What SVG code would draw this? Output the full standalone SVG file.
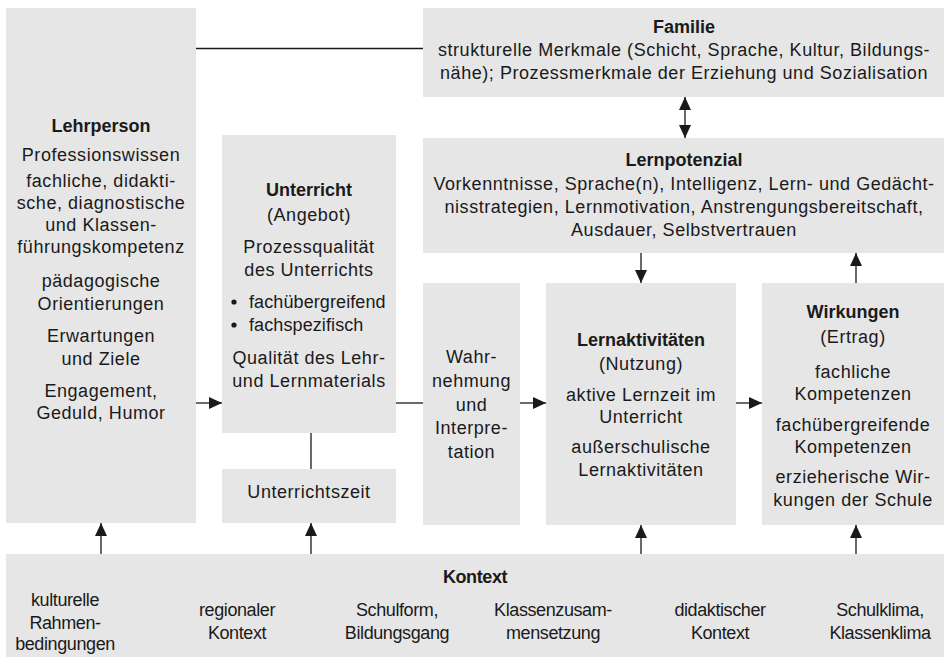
<svg xmlns="http://www.w3.org/2000/svg" width="950" height="657" viewBox="0 0 950 657">
<defs>
<style>
.box{fill:#e6e6e6}
text{font-family:"Liberation Sans",Arial,sans-serif;font-size:18px;letter-spacing:0.55px;fill:#1a1a1a;text-anchor:middle}
.b{font-weight:bold;letter-spacing:0}
.l{text-anchor:start;letter-spacing:0.1px}
.k{letter-spacing:-0.4px}
.c{stroke:#1a1a1a;stroke-width:1.3;fill:none}
</style>
<marker id="ah" markerUnits="userSpaceOnUse" markerWidth="14" markerHeight="12" refX="13" refY="6" orient="auto-start-reverse">
<path d="M0,0 L13,6 L0,12 Z" fill="#1a1a1a"/>
</marker>
</defs>
<rect width="950" height="657" fill="#fff"/>
<g id="connectors">
<line class="c" x1="196" y1="48.5" x2="423" y2="48.5"/>
<line class="c" x1="685" y1="97" x2="685" y2="138" marker-start="url(#ah)" marker-end="url(#ah)"/>
<line class="c" x1="641" y1="253" x2="641" y2="283" marker-end="url(#ah)"/>
<line class="c" x1="856" y1="283" x2="856" y2="253" marker-end="url(#ah)"/>
<line class="c" x1="196" y1="403" x2="222" y2="403" marker-end="url(#ah)"/>
<line class="c" x1="396" y1="403" x2="423" y2="403"/>
<line class="c" x1="520" y1="403" x2="546" y2="403" marker-end="url(#ah)"/>
<line class="c" x1="736" y1="403" x2="762" y2="403" marker-end="url(#ah)"/>
<line class="c" x1="311" y1="433" x2="311" y2="469"/>
<line class="c" x1="101" y1="554" x2="101" y2="523" marker-end="url(#ah)"/>
<line class="c" x1="311" y1="554" x2="311" y2="523" marker-end="url(#ah)"/>
<line class="c" x1="641" y1="554" x2="641" y2="525" marker-end="url(#ah)"/>
<line class="c" x1="856" y1="554" x2="856" y2="525" marker-end="url(#ah)"/>
</g>
<g id="lehrperson">
<rect class="box" x="6" y="8" width="190" height="515"/>
<text x="101" y="132" class="b">Lehrperson</text>
<text x="101" y="161">Professionswissen</text>
<text x="101" y="187">fachliche, didakti-</text>
<text x="101" y="209">sche, diagnostische</text>
<text x="101" y="231">und Klassen-</text>
<text x="101" y="253">führungskompetenz</text>
<text x="101" y="287">pädagogische</text>
<text x="101" y="310">Orientierungen</text>
<text x="101" y="342">Erwartungen</text>
<text x="101" y="365">und Ziele</text>
<text x="101" y="397">Engagement,</text>
<text x="101" y="419">Geduld, Humor</text>
</g>
<g id="familie">
<rect class="box" x="423" y="8" width="521" height="89"/>
<text x="684" y="33" class="b">Familie</text>
<text x="684" y="56">strukturelle Merkmale (Schicht, Sprache, Kultur, Bildungs-</text>
<text x="684" y="79">nähe); Prozessmerkmale der Erziehung und Sozialisation</text>
</g>
<g id="lernpotenzial">
<rect class="box" x="423" y="138" width="521" height="115"/>
<text x="684" y="166" class="b">Lernpotenzial</text>
<text x="684" y="190">Vorkenntnisse, Sprache(n), Intelligenz, Lern- und Gedächt-</text>
<text x="684" y="213">nisstrategien, Lernmotivation, Anstrengungsbereitschaft,</text>
<text x="684" y="236">Ausdauer, Selbstvertrauen</text>
</g>
<g id="unterricht">
<rect class="box" x="222" y="135" width="174" height="298"/>
<text x="309" y="196" class="b">Unterricht</text>
<text x="309" y="221">(Angebot)</text>
<text x="309" y="253">Prozessqualität</text>
<text x="309" y="276">des Unterrichts</text>
<circle cx="234" cy="302" r="2.6" fill="#1a1a1a"/>
<circle cx="234" cy="325" r="2.6" fill="#1a1a1a"/>
<text x="249" y="308" class="l">fachübergreifend</text>
<text x="249" y="331" class="l">fachspezifisch</text>
<text x="309" y="364">Qualität des Lehr-</text>
<text x="309" y="387">und Lernmaterials</text>
</g>
<g id="unterrichtszeit">
<rect class="box" x="222" y="469" width="174" height="54"/>
<text x="309" y="498">Unterrichtszeit</text>
</g>
<g id="wahrnehmung">
<rect class="box" x="423" y="283" width="97" height="242"/>
<text x="471.5" y="363">Wahr-</text>
<text x="471.5" y="387">nehmung</text>
<text x="471.5" y="411">und</text>
<text x="471.5" y="434">Interpre-</text>
<text x="471.5" y="458">tation</text>
</g>
<g id="lernaktivitaeten">
<rect class="box" x="546" y="283" width="190" height="242"/>
<text x="641" y="346" class="b">Lernaktivitäten</text>
<text x="641" y="370">(Nutzung)</text>
<text x="641" y="401">aktive Lernzeit im</text>
<text x="641" y="423">Unterricht</text>
<text x="641" y="453">außerschulische</text>
<text x="641" y="476">Lernaktivitäten</text>
</g>
<g id="wirkungen">
<rect class="box" x="762" y="283" width="182" height="242"/>
<text x="853" y="318" class="b">Wirkungen</text>
<text x="853" y="343">(Ertrag)</text>
<text x="853" y="378">fachliche</text>
<text x="853" y="400">Kompetenzen</text>
<text x="853" y="431">fachübergreifende</text>
<text x="853" y="453">Kompetenzen</text>
<text x="853" y="483">erzieherische Wir-</text>
<text x="853" y="506">kungen der Schule</text>
</g>
<g id="kontext">
<rect class="box" x="6" y="554" width="938" height="103"/>
<text x="475" y="583" class="b k">Kontext</text>
<text x="65" y="606" class="k">kulturelle</text>
<text x="65" y="629" class="k">Rahmen-</text>
<text x="65" y="650" class="k">bedingungen</text>
<text x="237" y="616" class="k">regionaler</text>
<text x="237" y="639" class="k">Kontext</text>
<text x="397" y="616" class="k">Schulform,</text>
<text x="397" y="639" class="k">Bildungsgang</text>
<text x="553" y="616" class="k">Klassenzusam-</text>
<text x="553" y="639" class="k">mensetzung</text>
<text x="720" y="616" class="k">didaktischer</text>
<text x="720" y="639" class="k">Kontext</text>
<text x="880" y="616" class="k">Schulklima,</text>
<text x="880" y="639" class="k">Klassenklima</text>
</g>
</svg>
